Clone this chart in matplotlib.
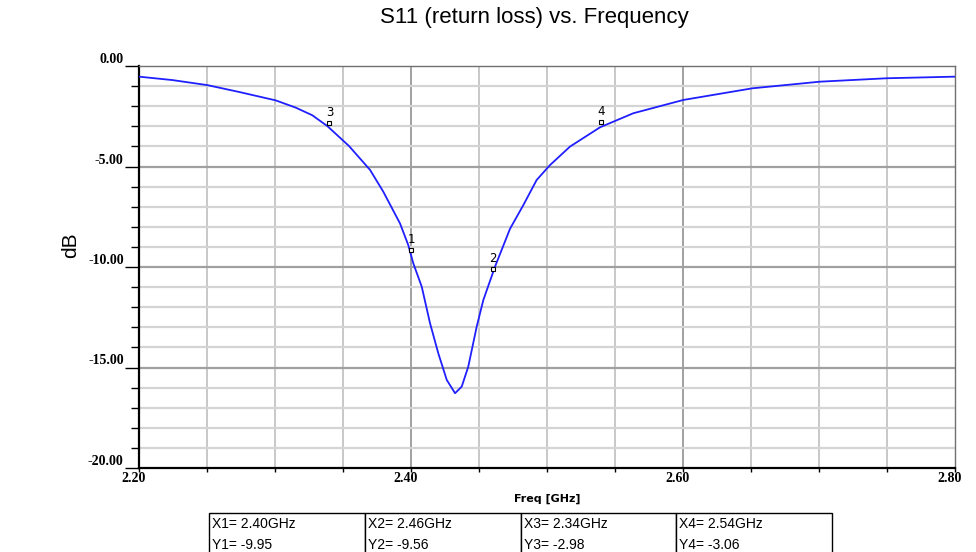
"""S11 return loss plot in the style of an HFSS report."""

import matplotlib
matplotlib.use("Agg")
import matplotlib.pyplot as plt
import matplotlib.transforms as mtransforms
import numpy as np

# curve (GHz, dB)
freq = [2.2000, 2.2245, 2.2502, 2.2735, 2.3005, 2.3152, 2.3274, 2.3385,
        2.3544, 2.3699, 2.3796, 2.3919, 2.3980, 2.4017, 2.4079, 2.4140,
        2.4201, 2.4263, 2.4324, 2.4373, 2.4421, 2.4483, 2.4532, 2.4618,
        2.4728, 2.4826, 2.4924, 2.5022, 2.5169, 2.5390, 2.5635, 2.6002,
        2.6510, 2.7007, 2.7498, 2.8000]
s11 = [-0.53, -0.70, -0.95, -1.29, -1.71, -2.07, -2.45, -2.99,
       -3.98, -5.17, -6.25, -7.83, -8.91, -9.82, -10.98, -12.80,
       -14.30, -15.62, -16.28, -15.95, -14.96, -12.97, -11.64, -9.98,
       -8.10, -6.92, -5.67, -4.93, -4.01, -3.05, -2.35, -1.69,
       -1.11, -0.78, -0.61, -0.53]

# markers
mk_names = ["1", "2", "3", "4"]
mk_freq = [2.40, 2.46, 2.34, 2.54]
mk_db = [-9.95, -9.56, -2.98, -3.06]

xticks = [2.20, 2.40, 2.60, 2.80]
yticks = [0, -5, -10, -15, -20]

fig = plt.figure(figsize=(9.76, 5.52), dpi=100)
ax = fig.add_axes([139/976, 1-468/552, (955-139)/976, (468-66)/552])

ax.set_xlim(2.2, 2.8)
ax.set_ylim(-20, 0)

# grid: light minor lines, darker major lines
for x in np.arange(2.25, 2.80, 0.05):
    major = abs((x - 2.2) / 0.2 - round((x - 2.2) / 0.2)) < 1e-6
    ax.axvline(x, color="#a0a0a0" if major else "#c8c8c8", lw=1.4, zorder=0)
for y in range(-19, 0):
    major = y % 5 == 0
    ax.axhline(y, color="#a0a0a0" if major else "#d4d4d4", lw=1.6, zorder=0)

ax.plot(freq, s11, color="#1f1fff", lw=1.3, zorder=3)

# marker tags on the curve
for name, f, d in zip(mk_names, mk_freq, np.interp(mk_freq, freq, s11)):
    ax.plot(f, d + 0.25, marker="s", ms=2.5, mfc="white", mec="black",
            mew=0.8, zorder=4)
    ax.text(f, d + 0.45, name, ha="center", va="bottom", fontsize=8.5,
            family="DejaVu Sans", zorder=4)

ax.set_xticks(xticks)
ax.set_xticks(np.arange(2.2, 2.801, 0.05), minor=True)
ax.set_xticklabels(["%.2f" % t for t in xticks], fontsize=10,
                   family="Liberation Serif", fontweight="bold")
ax.set_yticks(yticks)
ax.set_yticks(range(-20, 1), minor=True)
ax.set_yticklabels(["%.2f" % t for t in yticks], fontsize=10,
                   family="Liberation Serif", fontweight="bold")
ax.tick_params(axis="x", which="both", direction="out", length=3, width=1,
               pad=0)
ax.tick_params(axis="y", which="major", direction="out", length=10, width=1,
               pad=1)
ax.tick_params(axis="y", which="minor", direction="out", length=6, width=1)
shift = mtransforms.ScaledTranslation(-5/100, 0, fig.dpi_scale_trans)
for lbl in ax.get_xticklabels():
    lbl.set_transform(lbl.get_transform() + shift)
for lbl in ax.get_yticklabels():
    lbl.set_verticalalignment("bottom")

for side in ["left", "bottom"]:
    ax.spines[side].set_color("black")
    ax.spines[side].set_linewidth(1.6)
for side in ["top", "right"]:
    ax.spines[side].set_color("#707070")
    ax.spines[side].set_linewidth(1.0)

ax.set_xlabel("Freq [GHz]", fontsize=8, fontweight="bold",
              family="DejaVu Sans", labelpad=6)
ax.set_ylabel("dB", fontsize=15, family="Liberation Sans")
ax.yaxis.set_label_coords((80-139)/816, (468-245)/402)
fig.text(534/976, 1-18/552, "S11 (return loss) vs. Frequency", fontsize=16,
         family="Liberation Sans", ha="center", va="center")

# marker readout table
cells = [["X%s= %.2fGHz\nY%s= %.2f" % (n, f, n, d)
          for n, f, d in zip(mk_names, mk_freq, mk_db)]]
tab = ax.table(cellText=cells, cellLoc="left",
               bbox=[(209-139)/816, -(556-468)/402, (832-209)/816, 43/402])
tab.auto_set_font_size(False)
for cell in tab.get_celld().values():
    cell.set_fontsize(10)
    cell.get_text().set_family("Liberation Sans")
    cell.get_text().set_linespacing(1.6)
    cell.set_linewidth(1.0)
    cell.PAD = 0.02

fig.savefig("out.png", dpi=100)
